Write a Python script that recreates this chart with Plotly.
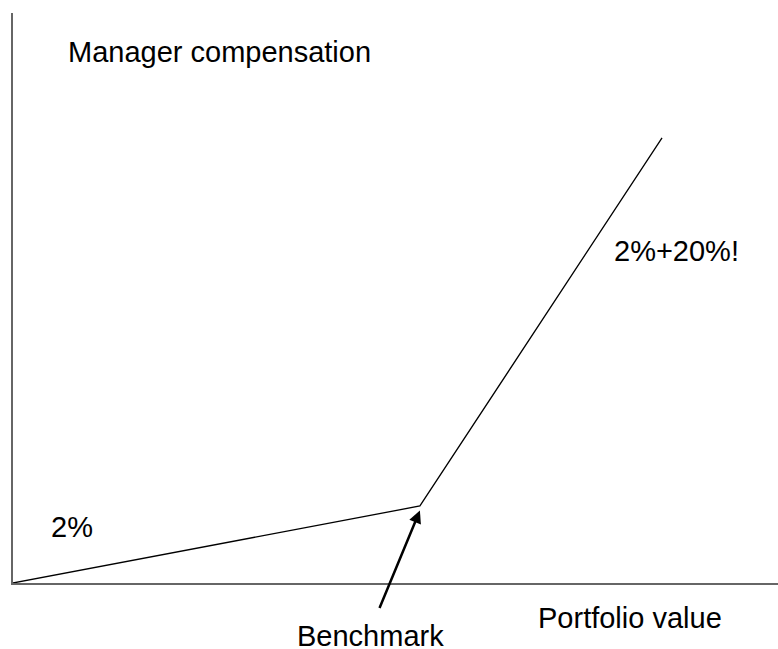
import plotly.graph_objects as go

# Payoff of the manager: 2% fee below benchmark, 2% + 20% above it
portfolio_value = [0, 100, 159.5]
compensation = [0, 2.0, 11.56]
benchmark_x = 100
benchmark_y = 2.0

W, H = 778, 649
m_left, m_right, m_top, m_bottom = 13, 0, 13, 66

fig = go.Figure()

fig.add_trace(
    go.Scatter(
        x=portfolio_value,
        y=compensation,
        mode="lines",
        line=dict(color="black", width=1.3),
        showlegend=False,
        hoverinfo="skip",
    )
)

font = dict(family="Liberation Sans, Arial, sans-serif", size=29, color="black")


def px(x, y):
    # pixel position on the page -> paper coords
    pw = W - m_left - m_right
    ph = H - m_top - m_bottom
    return (x - m_left) / pw, (H - m_bottom - y) / ph


annotations = []
for text, (x, y) in [
    ("Manager compensation", (219, 52)),
    ("2%+20%!", (676, 251)),
    ("2%", (72, 527)),
    ("Benchmark", (370, 636)),
    ("Portfolio value", (630, 618)),
]:
    xp, yp = px(x, y)
    annotations.append(
        dict(x=xp, y=yp, xref="paper", yref="paper", text=text,
             showarrow=False, font=font, xanchor="center", yanchor="middle")
    )

# arrow pointing at the benchmark kink
annotations.append(
    dict(x=benchmark_x, y=benchmark_y - 0.12, xref="x", yref="y", text="",
         showarrow=True, arrowhead=2, arrowsize=1, arrowwidth=2.5,
         arrowcolor="black", ax=-41, ay=99)
)

fig.update_layout(
    width=W,
    height=H,
    margin=dict(l=m_left, r=m_right, t=m_top, b=m_bottom),
    plot_bgcolor="white",
    paper_bgcolor="white",
    annotations=annotations,
    xaxis=dict(range=[0, 188], showgrid=False, zeroline=False,
               showticklabels=False, ticks="", showline=True,
               linecolor="#666666", linewidth=2),
    yaxis=dict(range=[0, 14.8], showgrid=False, zeroline=False,
               showticklabels=False, ticks="", showline=True,
               linecolor="#666666", linewidth=2),
)

fig.write_html("out.html", config={"displayModeBar": False},
               post_script="document.body.style.margin='0';")
